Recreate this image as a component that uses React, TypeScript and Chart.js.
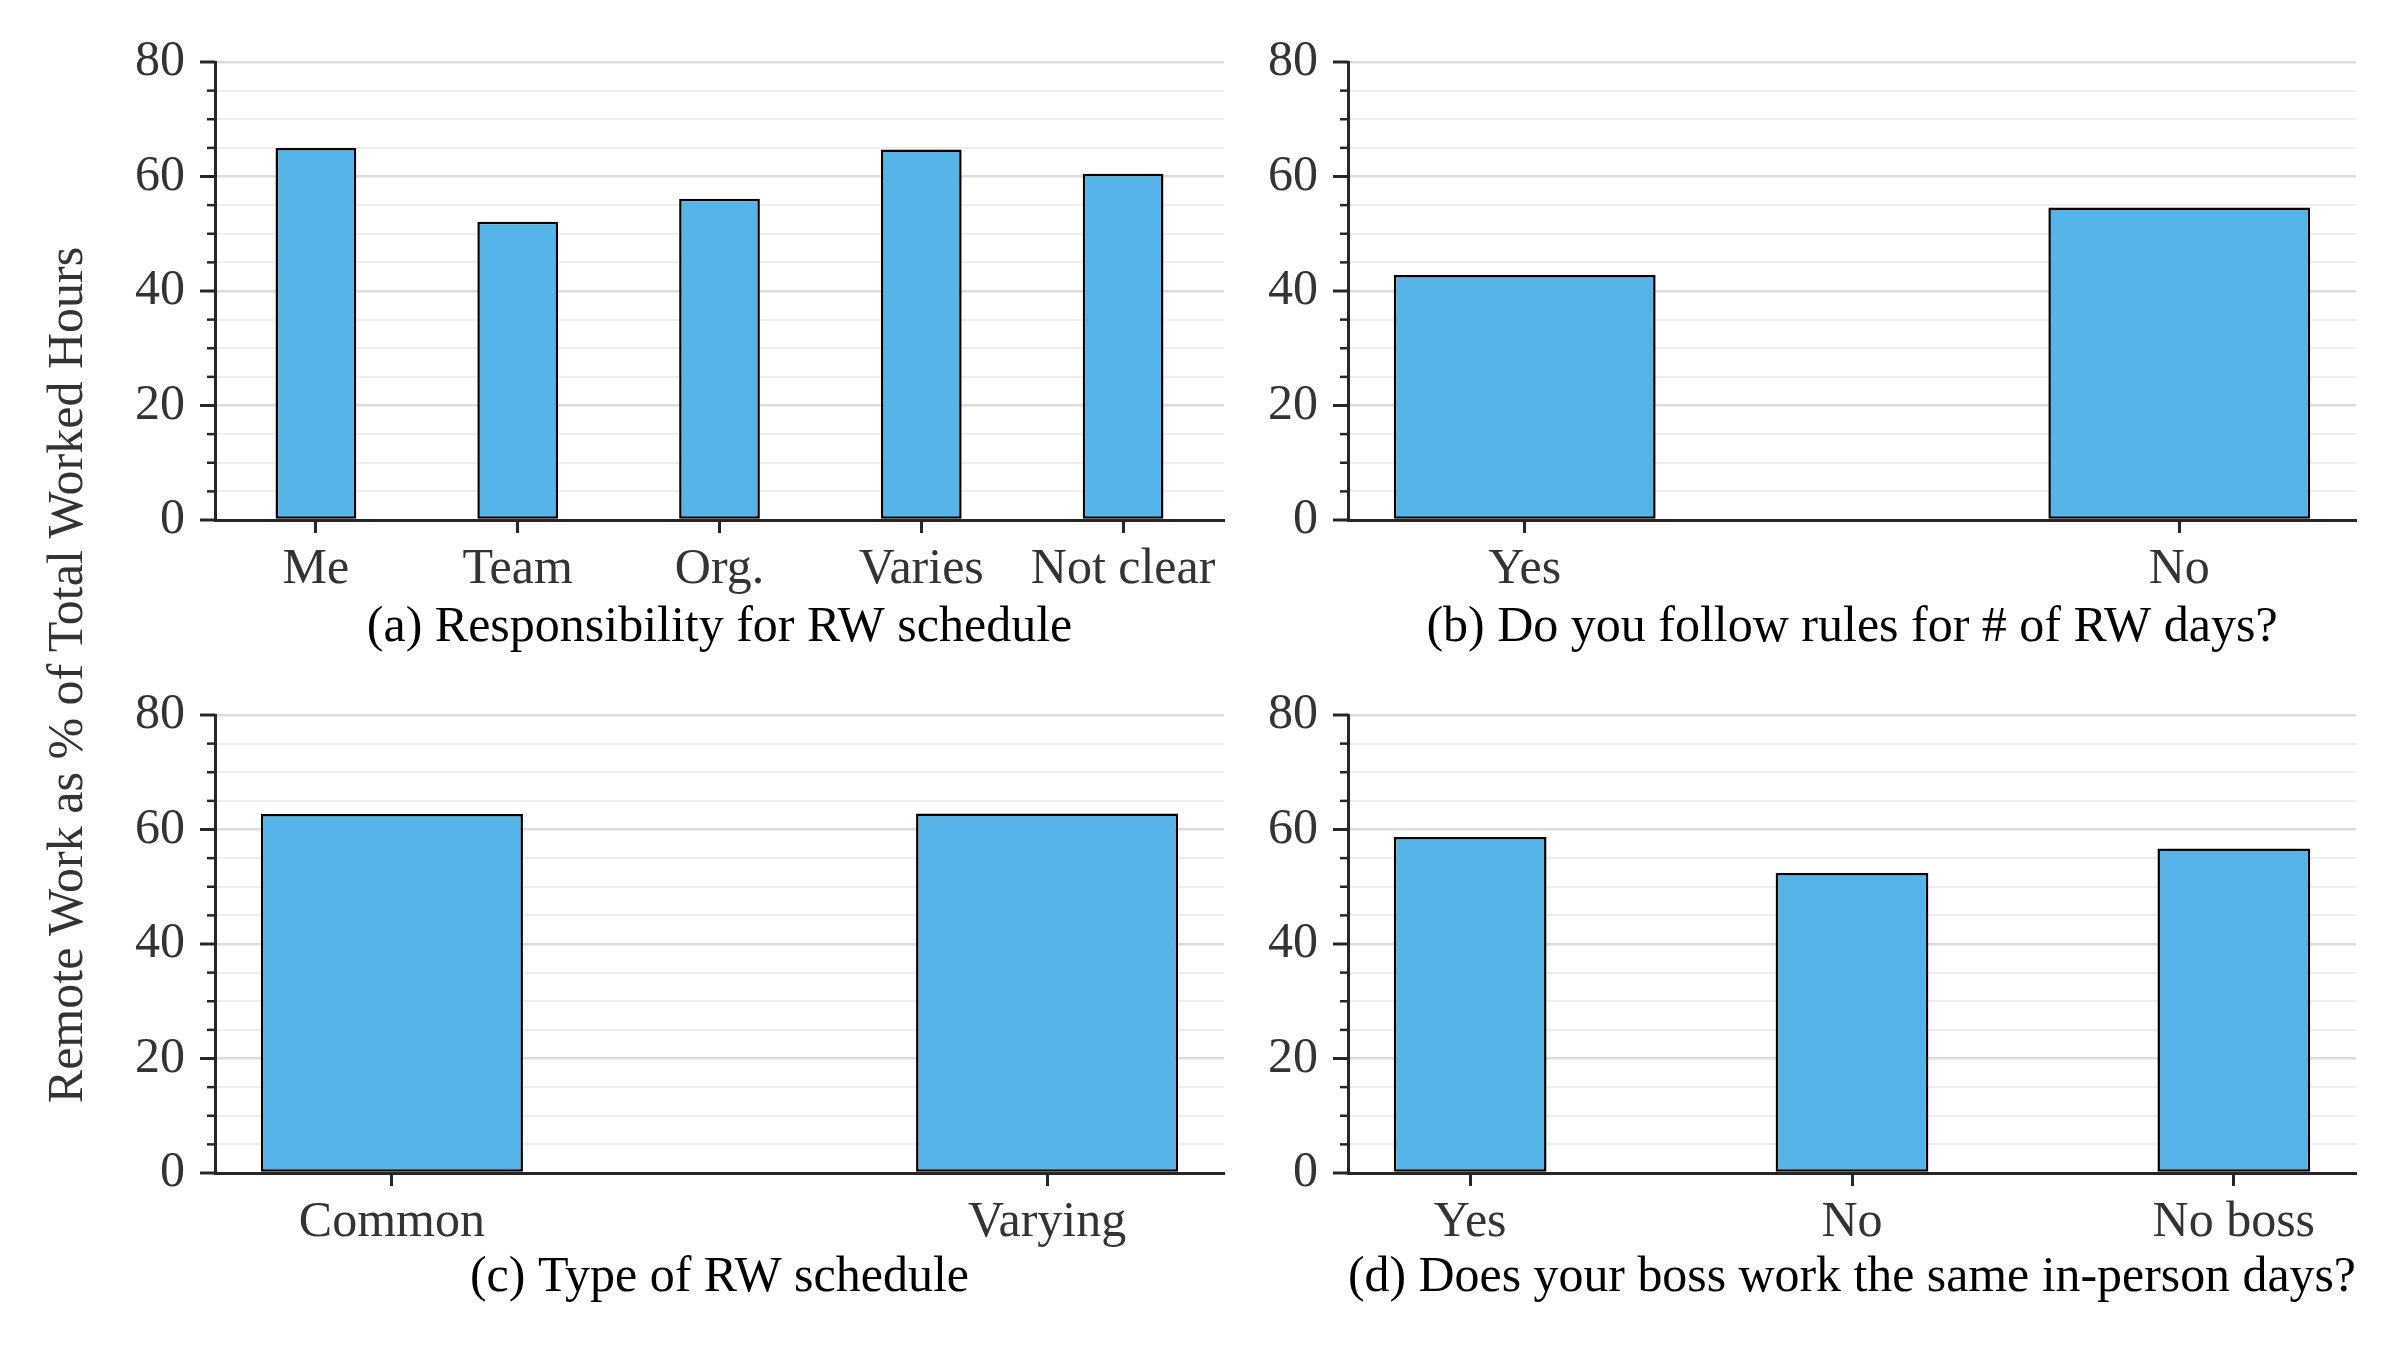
import React, { useEffect, useRef } from "react"
import { Chart, registerables, type ChartConfiguration, type Plugin } from "chart.js"

Chart.register(...registerables)

// panel (a)
const respLabels = ["Me", "Team", "Org.", "Varies", "Not clear"]
const respValues = [65.0, 52.1, 56.1, 64.7, 60.5]
// panel (b)
const rulesLabels = ["Yes", "No"]
const rulesValues = [42.8, 54.6]
// panel (c)
const typeLabels = ["Common", "Varying"]
const typeValues = [62.7, 62.8]
// panel (d)
const bossLabels = ["Yes", "No", "No boss"]
const bossValues = [58.7, 52.4, 56.7]

const yTicks = [0, 20, 40, 60, 80]

const SERIF = "'Liberation Serif', 'Times New Roman', Times, serif"
const BAR_COLOR = "#56B4E9"
const AXIS_COLOR = "#262626"

// draws matplotlib-like major/minor ticks on the left spine
const yTickMarks: Plugin<"bar"> = {
  id: "yTickMarks",
  afterDraw(chart) {
    const y = chart.scales.y
    const ctx = chart.ctx
    const x0 = chart.chartArea.left
    ctx.save()
    ctx.strokeStyle = AXIS_COLOR
    y.ticks.forEach((t) => {
      const py = y.getPixelForValue(t.value)
      const major = yTicks.includes(t.value)
      ctx.lineWidth = major ? 3 : 2.5
      ctx.beginPath()
      ctx.moveTo(x0 - (major ? 15 : 8), py)
      ctx.lineTo(x0, py)
      ctx.stroke()
    })
    ctx.restore()
  },
}

interface PanelProps {
  labels: string[]
  values: number[]
  caption: string
  xMin: number
  xMax: number
  left: number
  top: number
  width: number
  height: number
  axisWidth: number
  padTop: number
  padRight: number
  xAxisHeight: number
  captionPad: number
}

function BarPanel(p: PanelProps) {
  const canvasRef = useRef<HTMLCanvasElement>(null)
  const chartRef = useRef<Chart | null>(null)

  useEffect(() => {
    if (!canvasRef.current) return
    if (chartRef.current) chartRef.current.destroy()

    const config: ChartConfiguration<"bar"> = {
      type: "bar",
      data: {
        datasets: [
          {
            data: p.values.map((v, i) => ({ x: i, y: v })) as any,
            backgroundColor: BAR_COLOR,
            borderColor: "#000",
            borderWidth: 2.5,
            borderSkipped: false,
            categoryPercentage: 1,
            barPercentage: 0.4,
          },
        ],
      },
      options: {
        responsive: false,
        animation: false,
        devicePixelRatio: 1,
        layout: { padding: { left: 0, top: p.padTop, right: p.padRight, bottom: 0 } },
        plugins: { legend: { display: false }, tooltip: { enabled: false } },
        scales: {
          x: {
            type: "linear",
            min: p.xMin,
            max: p.xMax,
            offset: false,
            afterBuildTicks: (scale) => {
              scale.ticks = p.labels.map((_, i) => ({ value: i }))
            },
            afterFit: (scale) => {
              scale.height = p.xAxisHeight
            },
            ticks: {
              autoSkip: false,
              maxRotation: 0,
              padding: 7,
              color: "#333",
              font: { family: SERIF, size: 50 },
              callback: (v) => p.labels[Number(v)] ?? "",
            },
            grid: {
              offset: false,
              drawOnChartArea: false,
              drawTicks: true,
              tickLength: 13,
              tickWidth: 3,
              tickColor: AXIS_COLOR,
            },
            border: { display: true, color: AXIS_COLOR, width: 3 },
            title: {
              display: true,
              text: p.caption,
              color: "#000",
              font: { family: SERIF, size: 50, lineHeight: 1.2 },
              padding: { top: 0, bottom: p.captionPad },
            },
          },
          y: {
            min: 0,
            max: 80,
            afterFit: (scale) => {
              scale.width = p.axisWidth
            },
            ticks: {
              stepSize: 5,
              autoSkip: false,
              padding: 30,
              color: "#333",
              font: { family: SERIF, size: 50 },
              callback: (v) => (yTicks.includes(Number(v)) ? String(v) : ""),
            },
            grid: {
              drawTicks: false,
              color: (ctx) => (yTicks.includes(ctx.tick.value) ? "#dcdcdc" : "#eeeeee"),
              lineWidth: (ctx) => (yTicks.includes(ctx.tick.value) ? 2.5 : 2),
            },
            border: { display: true, color: AXIS_COLOR, width: 3 },
          },
        },
      },
      plugins: [yTickMarks],
    }

    chartRef.current = new Chart(canvasRef.current, config)

    return () => {
      if (chartRef.current) {
        chartRef.current.destroy()
        chartRef.current = null
      }
    }
  }, [p])

  return (
    <div style={{ position: "absolute", left: p.left, top: p.top, width: p.width, height: p.height }}>
      <canvas ref={canvasRef} width={p.width} height={p.height} />
    </div>
  )
}

export default function App() {
  return (
    <div
      style={{
        position: "absolute",
        left: 0,
        top: 0,
        width: 2400,
        height: 1350,
        background: "#fff",
        overflow: "hidden",
      }}
    >
      <div
        style={{
          position: "absolute",
          left: 65,
          top: 675,
          transform: "translate(-50%, -50%) rotate(-90deg)",
          whiteSpace: "nowrap",
          fontFamily: SERIF,
          fontSize: 50,
          lineHeight: "50px",
          color: "#333",
        }}
      >
        Remote Work as % of Total Worked Hours
      </div>
      <BarPanel
        labels={respLabels}
        values={respValues}
        caption="(a) Responsibility for RW schedule"
        xMin={-0.5}
        xMax={4.5}
        left={0}
        top={0}
        width={1240}
        height={680}
        axisWidth={215}
        padTop={62}
        padRight={16}
        xAxisHeight={160}
        captionPad={22}
      />
      <BarPanel
        labels={rulesLabels}
        values={rulesValues}
        caption="(b) Do you follow rules for # of RW days?"
        xMin={-0.27}
        xMax={1.27}
        left={1240}
        top={0}
        width={1160}
        height={680}
        axisWidth={108}
        padTop={62}
        padRight={44}
        xAxisHeight={160}
        captionPad={22}
      />
      <BarPanel
        labels={typeLabels}
        values={typeValues}
        caption="(c) Type of RW schedule"
        xMin={-0.27}
        xMax={1.27}
        left={0}
        top={653}
        width={1240}
        height={697}
        axisWidth={215}
        padTop={62}
        padRight={16}
        xAxisHeight={177}
        captionPad={42}
      />
      <BarPanel
        labels={bossLabels}
        values={bossValues}
        caption="(d) Does your boss work the same in-person days?"
        xMin={-0.32}
        xMax={2.32}
        left={1240}
        top={653}
        width={1160}
        height={697}
        axisWidth={108}
        padTop={62}
        padRight={44}
        xAxisHeight={177}
        captionPad={42}
      />
    </div>
  )
}
